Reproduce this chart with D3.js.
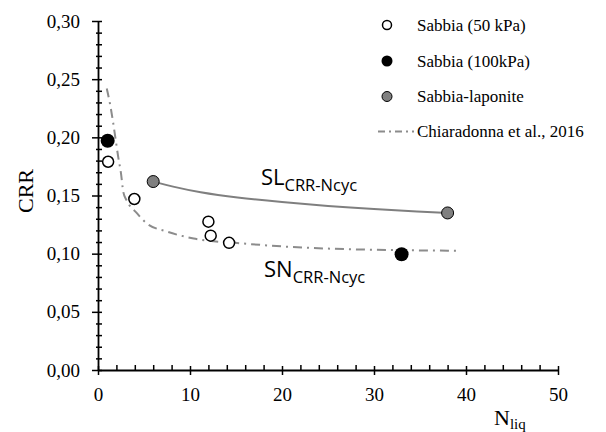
<!DOCTYPE html>
<html>
<head>
<meta charset="utf-8">
<script src="https://cdn.jsdelivr.net/npm/d3@7"></script>
<style>
  body { margin: 0; background: #fff; }
  svg { display: block; }
</style>
</head>
<body>
<script>
// Sabbia (50 kPa) - open circles
const sand50N = [1.1, 3.95, 12, 12.25, 14.25];
const sand50CRR = [0.179, 0.147, 0.1275, 0.1155, 0.1093];
// Sabbia (100kPa) - black circles
const sand100N = [1.05, 33];
const sand100CRR = [0.197, 0.0995];
// Sabbia-laponite - grey circles
const lapN = [6, 38];
const lapCRR = [0.162, 0.135];
// SL CRR-Ncyc curve
const slCurveN = [6, 8, 11, 15, 20, 25, 30, 35, 38];
const slCurveCRR = [0.162, 0.1578, 0.1527, 0.1482, 0.1443, 0.1408, 0.1382, 0.1362, 0.135];
// Chiaradonna et al., 2016 curve
const chiaN = [0.95, 1.3, 1.6, 1.9, 2.2, 2.5, 2.75, 3.1, 4.2, 5.3, 7.5, 10.4, 15.4, 24.5, 39];
const chiaCRR = [0.242, 0.229, 0.215, 0.199, 0.183, 0.169, 0.153, 0.146, 0.135, 0.126, 0.119, 0.113, 0.109, 0.1045, 0.1025];

const xMajor = [0, 10, 20, 30, 40, 50];
const xMinor = d3.range(0, 51, 2).filter(v => v % 10 !== 0);
const yMajor = [0, 0.05, 0.10, 0.15, 0.20, 0.25, 0.30];
const yMinor = d3.range(0, 31).map(v => v / 100).filter((v, i) => i % 5 !== 0);

const legendLabels = ["Sabbia (50 kPa)", "Sabbia (100kPa)", "Sabbia-laponite", "Chiaradonna et al., 2016"];

let width = 606;
let height = 432;
let marginTop = 21;
let marginRight = 48;
let marginBottom = 62;
let marginLeft = 98;

const x = d3.scaleLinear().domain([0, 50]).range([marginLeft, width - marginRight]);
const y = d3.scaleLinear().domain([0, 0.3]).range([height - marginBottom, marginTop]);

const svg = d3.select("body").append("svg")
    .attr("width", width)
    .attr("height", height)
    .attr("viewBox", [0, 0, width, height]);

const serif = "'Liberation Serif', 'Times New Roman', serif";
const sans = "'Open Sans', 'Noto Sans', sans-serif";

// curves
const zip = (a, b) => a.map((v, i) => [v, b[i]]);
const line = d3.line().x(d => x(d[0])).y(d => y(d[1])).curve(d3.curveMonotoneX);
const smooth = d3.line().x(d => x(d[0])).y(d => y(d[1])).curve(d3.curveBasis);

svg.append("path")
    .attr("d", line(zip(chiaN, chiaCRR)))
    .attr("fill", "none")
    .attr("stroke", "#8c8c8c")
    .attr("stroke-width", 2)
    .attr("stroke-dasharray", "9,5,2,5");

svg.append("path")
    .attr("d", smooth(zip(slCurveN, slCurveCRR)))
    .attr("fill", "none")
    .attr("stroke", "#7f7f7f")
    .attr("stroke-width", 2);

// y axis
svg.append("g")
    .attr("transform", `translate(${marginLeft},0)`)
    .call(d3.axisLeft(y).tickValues(yMinor).tickSize(2).tickFormat(""))
    .call(g => g.select(".domain").remove())
    .call(g => g.selectAll(".tick line").attr("x2", 4).attr("x1", -2).attr("stroke-width", 1.5));

svg.append("g")
    .attr("transform", `translate(${marginLeft},0)`)
    .call(d3.axisLeft(y).tickValues(yMajor).tickSize(6).tickSizeOuter(0).tickPadding(12)
        .tickFormat(d => d.toFixed(2).replace(".", ",")))
    .call(g => g.select(".domain").attr("stroke-width", 1.8))
    .call(g => g.selectAll(".tick line").attr("x2", 4).attr("x1", -6).attr("stroke-width", 1.5))
    .call(g => g.selectAll("text").style("font-family", serif).style("font-size", "19px").attr("fill", "#000"));

// x axis
svg.append("g")
    .attr("transform", `translate(0,${height - marginBottom})`)
    .call(d3.axisBottom(x).tickValues(xMinor).tickSize(0).tickFormat(""))
    .call(g => g.select(".domain").remove())
    .call(g => g.selectAll(".tick line").attr("y1", 0).attr("y2", -5).attr("stroke-width", 1.5));

svg.append("g")
    .attr("transform", `translate(0,${height - marginBottom})`)
    .call(d3.axisBottom(x).tickValues(xMajor).tickSize(5).tickSizeOuter(0).tickPadding(13))
    .call(g => g.select(".domain").attr("stroke-width", 1.8))
    .call(g => g.selectAll(".tick line").attr("y1", -4).attr("y2", 5).attr("stroke-width", 1.5))
    .call(g => g.selectAll("text").style("font-family", serif).style("font-size", "19px").attr("fill", "#000"));

// axis titles
svg.append("text")
    .attr("transform", `translate(33,191) rotate(-90)`)
    .attr("text-anchor", "middle")
    .style("font-family", serif)
    .style("font-size", "22px")
    .text("CRR");

const nl = svg.append("text")
    .attr("x", 494)
    .attr("y", 425)
    .style("font-family", serif)
    .style("font-size", "22px");
nl.append("tspan").text("N");
nl.append("tspan").attr("dy", 4).style("font-size", "15px").text("liq");

// curve labels
function curveLabel(main, px, py) {
  const t = svg.append("text")
      .attr("x", px)
      .attr("y", py)
      .style("font-family", sans)
      .style("font-size", "22px")
      .attr("fill", "#000");
  t.append("tspan").text(main);
  t.append("tspan").attr("dy", 6).style("font-size", "16.5px").text("CRR-Ncyc");
}
curveLabel("SL", 261, 185);
curveLabel("SN", 264, 277);

// points
svg.append("g")
    .selectAll("circle")
    .data(zip(sand50N, sand50CRR))
    .join("circle")
    .attr("cx", d => x(d[0]))
    .attr("cy", d => y(d[1]))
    .attr("r", 5.5)
    .attr("fill", "#fff")
    .attr("stroke", "#000")
    .attr("stroke-width", 1.5);

svg.append("g")
    .selectAll("circle")
    .data(zip(lapN, lapCRR))
    .join("circle")
    .attr("cx", d => x(d[0]))
    .attr("cy", d => y(d[1]))
    .attr("r", 6)
    .attr("fill", "#808080")
    .attr("stroke", "#000")
    .attr("stroke-width", 1);

svg.append("g")
    .selectAll("circle")
    .data(zip(sand100N, sand100CRR))
    .join("circle")
    .attr("cx", d => x(d[0]))
    .attr("cy", d => y(d[1]))
    .attr("r", 7)
    .attr("fill", "#000");

// legend
const legend = svg.append("g");
const rowY = [25, 61, 96.5, 131.5];
legend.append("circle").attr("cx", 387).attr("cy", rowY[0]).attr("r", 4.5)
    .attr("fill", "#fff").attr("stroke", "#000").attr("stroke-width", 1.5);
legend.append("circle").attr("cx", 387).attr("cy", rowY[1]).attr("r", 5.5).attr("fill", "#000");
legend.append("circle").attr("cx", 387).attr("cy", rowY[2]).attr("r", 5)
    .attr("fill", "#808080").attr("stroke", "#000").attr("stroke-width", 1);
legend.append("line")
    .attr("x1", 378).attr("x2", 414).attr("y1", rowY[3]).attr("y2", rowY[3])
    .attr("stroke", "#8c8c8c").attr("stroke-width", 2).attr("stroke-dasharray", "7,4,2,4");

legend.selectAll("text")
    .data(legendLabels)
    .join("text")
    .attr("x", 417)
    .attr("y", (d, i) => rowY[i])
    .attr("dy", "0.33em")
    .style("font-family", serif)
    .style("font-size", "17px")
    .text(d => d);
</script>
</body>
</html>
